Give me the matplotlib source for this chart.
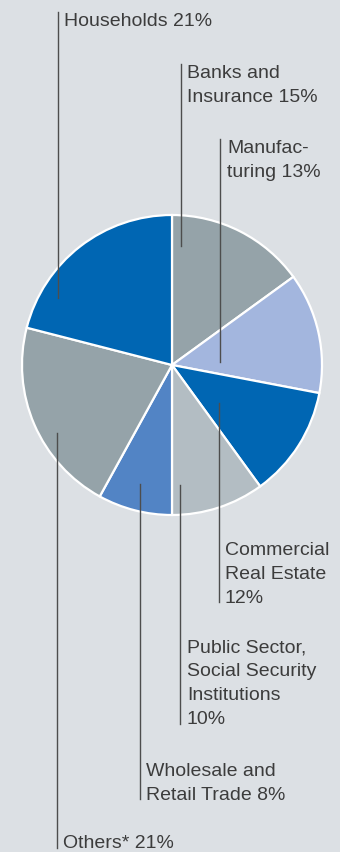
import matplotlib

matplotlib.use("Agg")
import matplotlib.pyplot as plt

plt.rcParams["font.family"] = ["Liberation Sans", "DejaVu Sans"]

# ── Data (clockwise from 12 o'clock) ─────────────────────────────────────────
SECTORS = [
    "Banks and\nInsurance 15%",
    "Manufac-\nturing 13%",
    "Commercial\nReal Estate\n12%",
    "Public Sector,\nSocial Security\nInstitutions\n10%",
    "Wholesale and\nRetail Trade 8%",
    "Others* 21%",
    "Households 21%",
]
SHARES = [15, 13, 12, 10, 8, 21, 21]
COLORS = ["#95a3a9", "#a3b6de", "#0066b3", "#b3bdc3", "#5284c5", "#95a3a9", "#0066b3"]

# ── Layout (pixel coords, y measured from top) ───────────────────────────────
W, H = 340, 852
BG, INK, LEAD = "#dce0e4", "#3c3c3c", "#4d4d4d"
CX, CY, R = 172, 365, 150
# (line x, line top, line bottom, text x, first baseline y)
LEADERS = [
    (181, 64, 246, 187, 78),
    (220, 139, 362, 227, 153),
    (219, 403, 602, 225, 555),
    (180, 485, 724, 187, 652.5),
    (140, 484, 799, 146, 775.5),
    (57, 433, 848, 63, 848),
    (57.5, 12, 298, 64, 26),
]
LINE_STEP = 24.0

fig = plt.figure(figsize=(W / 100, H / 100), dpi=100)
fig.patch.set_facecolor(BG)
ax = fig.add_axes([0, 0, 1, 1])
ax.set_facecolor(BG)

ax.pie(SHARES, colors=COLORS, center=(CX, H - CY), radius=R, startangle=90,
       counterclock=False, wedgeprops=dict(edgecolor="white", linewidth=1.6))

for label, (lx, y0, y1, tx, ty) in zip(SECTORS, LEADERS):
    ax.plot([lx, lx], [H - y0, H - y1], color=LEAD, linewidth=1.0, zorder=5)
    for i, line in enumerate(label.split("\n")):
        ax.text(tx, H - (ty + i * LINE_STEP), line, fontsize=14, color=INK,
                va="baseline", ha="left")

ax.set_xlim(0, W)
ax.set_ylim(0, H)
ax.set_aspect("auto")
ax.axis("off")

fig.savefig("out.png", facecolor=BG)
